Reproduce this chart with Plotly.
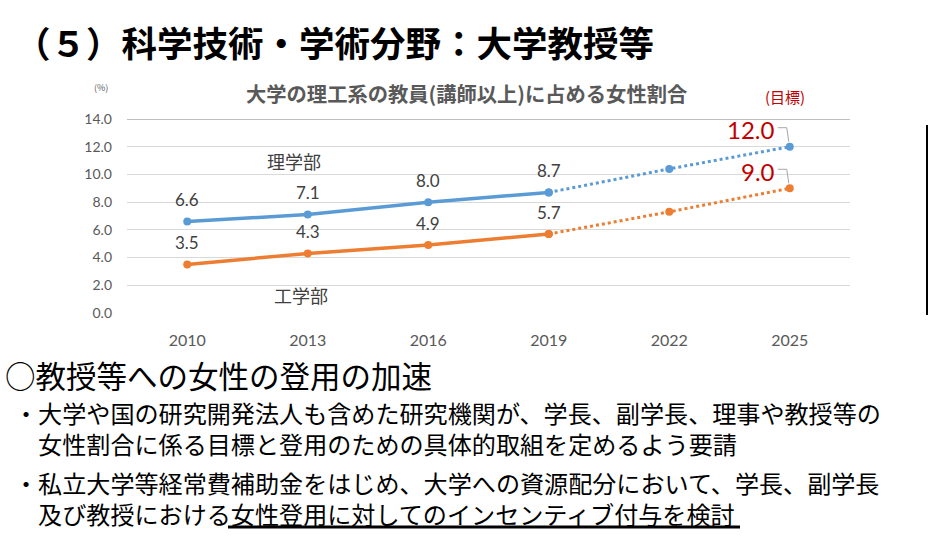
import plotly.graph_objects as go

# ---------------- data ----------------
years = ["2010", "2013", "2016", "2019", "2022", "2025"]
actual_years = ["2010", "2013", "2016", "2019"]
target_years = ["2019", "2022", "2025"]

sci_actual = [6.6, 7.1, 8.0, 8.7]        # 理学部
eng_actual = [3.5, 4.3, 4.9, 5.7]        # 工学部
sci_target = [8.7, 10.4, 12.0]
eng_target = [5.7, 7.3, 9.0]

y_tick_vals = [0, 2, 4, 6, 8, 10, 12, 14]
y_tick_text = ["0.0", "2.0", "4.0", "6.0", "8.0", "10.0", "12.0", "14.0"]

page_title = "（５）科学技術・学術分野：大学教授等"
chart_title = "大学の理工系の教員(講師以上)に占める女性割合"
unit_label = "(%)"
target_label = "(目標)"
sci_name = "理学部"
eng_name = "工学部"
heading = "○教授等への女性の登用の加速"
bullet_1 = ["・大学や国の研究開発法人も含めた研究機関が、学長、副学長、理事や教授等の",
            "　女性割合に係る目標と登用のための具体的取組を定めるよう要請"]
bullet_2 = ["・私立大学等経常費補助金をはじめ、大学への資源配分において、学長、副学長",
            "　及び教授における女性登用に対してのインセンティブ付与を検討"]

# ---------------- layout helpers ----------------
W, H = 929, 551
L, R, T, B = 127, 79, 119, 238
PW, PH = W - L - R, H - T - B


def px(x):
    return (x - L) / PW


def py(y):
    return (H - B - y) / PH


BLUE = "#5B9BD5"
ORANGE = "#ED7D31"
RED = "#C00000"
GRAY = "#595959"
DARK = "#404040"
JP = "Noto Sans CJK JP"
NUM = "Lato"

fig = go.Figure()

# actual (solid) lines
fig.add_trace(go.Scatter(x=actual_years, y=sci_actual, mode="lines+markers",
                         line=dict(color=BLUE, width=3.5),
                         marker=dict(color=BLUE, size=8), hoverinfo="skip"))
fig.add_trace(go.Scatter(x=actual_years, y=eng_actual, mode="lines+markers",
                         line=dict(color=ORANGE, width=3.5),
                         marker=dict(color=ORANGE, size=8), hoverinfo="skip"))
# target (dotted) lines
fig.add_trace(go.Scatter(x=target_years, y=sci_target, mode="lines+markers",
                         line=dict(color=BLUE, width=3, dash="dot"),
                         marker=dict(color=BLUE, size=8), hoverinfo="skip"))
fig.add_trace(go.Scatter(x=target_years, y=eng_target, mode="lines+markers",
                         line=dict(color=ORANGE, width=3, dash="dot"),
                         marker=dict(color=ORANGE, size=8), hoverinfo="skip"))

annotations = []
# data labels for actual values
for xs, ys in ((actual_years, sci_actual), (actual_years, eng_actual)):
    for xv, yv in zip(xs, ys):
        annotations.append(dict(x=years.index(xv), y=yv, xref="x", yref="y",
                                text=f"{yv:.1f}", showarrow=False, yshift=22,
                                font=dict(family=NUM, size=17, color=DARK)))

# target labels (last target value of each series)
shapes = []
for ys in (sci_target, eng_target):
    xi = years.index(target_years[-1])
    annotations.append(dict(x=xi, y=ys[-1], xref="x", yref="y",
                            text=f"{ys[-1]:.1f}", showarrow=False,
                            xanchor="right", yanchor="middle", xshift=-13, yshift=17,
                            font=dict(family=NUM, size=24, color=RED)))
    # elbow leader line, in pixel offsets from the point
    shapes.append(dict(type="path", xref="x", yref="y",
                       xsizemode="pixel", ysizemode="pixel",
                       xanchor=xi, yanchor=ys[-1],
                       path="M -12 19 L -3 19 L -1 5",
                       line=dict(color="#A6A6A6", width=1)))

# text annotations in paper coordinates
annotations += [
    dict(x=px(13), y=py(41), xref="paper", yref="paper", text=f"<b>{page_title}</b>",
         showarrow=False, xanchor="left", yanchor="middle",
         font=dict(family=JP, size=35.5, color="#000000")),
    dict(x=px(466), y=py(93), xref="paper", yref="paper", text=f"<b>{chart_title}</b>",
         showarrow=False, xanchor="center", yanchor="middle",
         font=dict(family=JP, size=20.3, color=GRAY)),
    dict(x=px(101), y=py(88), xref="paper", yref="paper", text=unit_label,
         showarrow=False, xanchor="center", yanchor="middle",
         font=dict(family=JP, size=9, color=GRAY)),
    dict(x=px(785), y=py(96), xref="paper", yref="paper", text=target_label,
         showarrow=False, xanchor="center", yanchor="middle",
         font=dict(family=JP, size=15, color=RED)),
    dict(x=px(294), y=py(161), xref="paper", yref="paper", text=sci_name,
         showarrow=False, xanchor="center", yanchor="middle",
         font=dict(family=JP, size=18, color=DARK)),
    dict(x=px(301), y=py(295), xref="paper", yref="paper", text=eng_name,
         showarrow=False, xanchor="center", yanchor="middle",
         font=dict(family=JP, size=18, color=DARK)),
    dict(x=px(3), y=py(375), xref="paper", yref="paper", text=heading,
         showarrow=False, xanchor="left", yanchor="middle",
         font=dict(family=JP, size=30.5, color="#000000")),
]
for cy, lines in ((428, bullet_1), (498, bullet_2)):
    annotations.append(dict(x=px(12), y=py(cy), xref="paper", yref="paper",
                            text="<br>".join(lines), align="left",
                            showarrow=False, xanchor="left", yanchor="middle",
                            font=dict(family=JP, size=24.1, color="#000000")))

shapes += [
    # top border line of plot area
    dict(type="line", xref="paper", yref="y", x0=0, x1=1, y0=14, y1=14,
         line=dict(color="#BFBFBF", width=2), layer="below"),
    # right separator line
    dict(type="line", xref="paper", yref="paper", x0=px(927), x1=px(927),
         y0=py(125), y1=py(315), line=dict(color="#000000", width=2)),
    # thick underline below the emphasised phrase
    dict(type="line", xref="paper", yref="paper", x0=px(228), x1=px(740),
         y0=py(527), y1=py(527), line=dict(color="#000000", width=3)),
]

fig.update_layout(
    width=W, height=H,
    margin=dict(l=L, r=R, t=T, b=B),
    paper_bgcolor="white", plot_bgcolor="white",
    showlegend=False,
    annotations=annotations,
    shapes=shapes,
    xaxis=dict(type="category", categoryorder="array", categoryarray=years,
               range=[-0.5, len(years) - 0.5], showgrid=False, zeroline=False,
               showline=False, ticks="", ticklabelstandoff=16,
               tickfont=dict(family=NUM, size=16, color=GRAY)),
    yaxis=dict(range=[0, 14], tickvals=y_tick_vals, ticktext=y_tick_text,
               showgrid=True, gridcolor="#D9D9D9", gridwidth=1, zeroline=False,
               showline=False, ticks="", ticklabelstandoff=14,
               tickfont=dict(family=NUM, size=14, color=GRAY)),
)

fig.write_html("out.html", config={"displayModeBar": False},
               post_script="document.body.style.margin='0';document.body.style.overflow='hidden';")
